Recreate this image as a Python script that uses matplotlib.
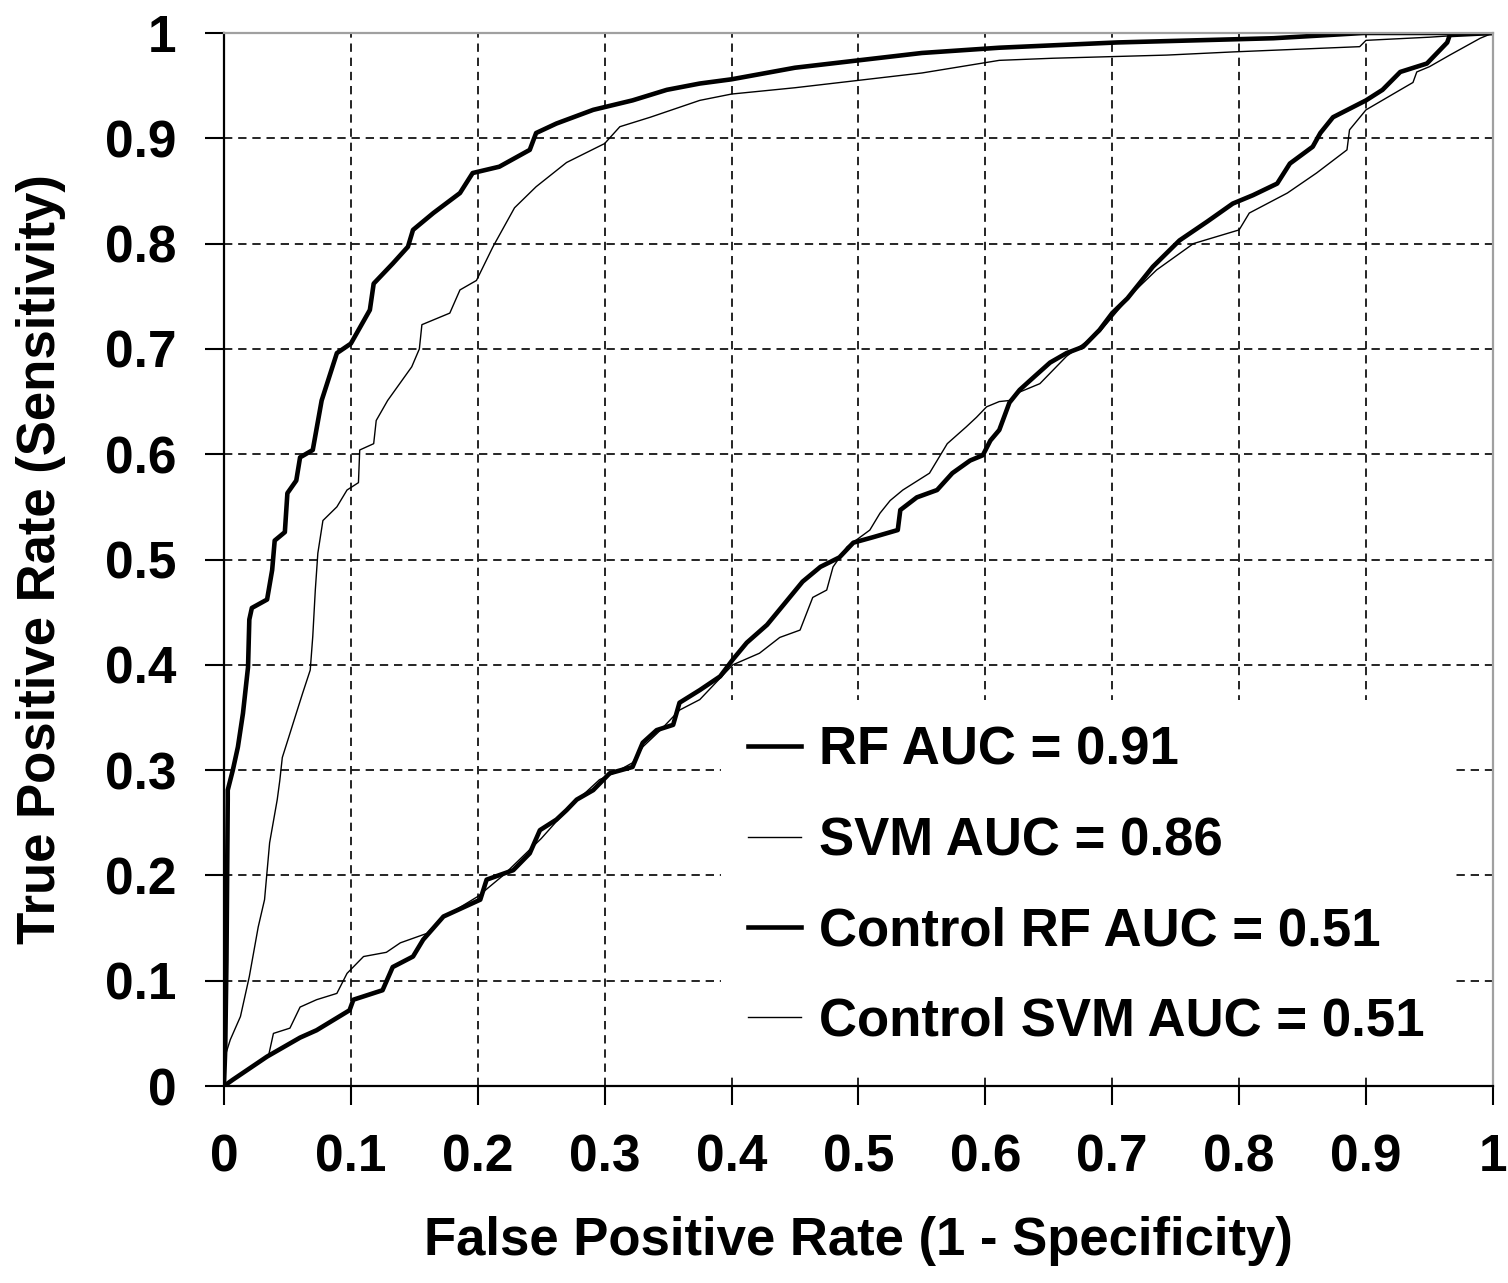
import matplotlib
matplotlib.use('Agg')
import matplotlib.pyplot as plt
import numpy as np

plt.rcParams['font.family'] = ['Liberation Sans', 'DejaVu Sans']
plt.rcParams['font.weight'] = 'bold'

# ROC curve points
rf_fpr = [0, 0.001, 0.002, 0.003, 0.003, 0.007, 0.011, 0.015, 0.019, 0.020, 0.022, 0.034, 0.038, 0.040,
          0.048, 0.050, 0.057, 0.060, 0.070, 0.077, 0.089, 0.10, 0.115, 0.118, 0.133, 0.145, 0.149, 0.165,
          0.186, 0.196, 0.217, 0.241, 0.246, 0.262, 0.291, 0.322, 0.349, 0.375, 0.40, 0.45, 0.50, 0.55,
          0.611, 0.704, 0.827, 0.898, 1.0]
rf_tpr = [0, 0.034, 0.12, 0.272, 0.281, 0.30, 0.322, 0.354, 0.398, 0.443, 0.454, 0.462, 0.49, 0.518,
          0.526, 0.563, 0.575, 0.597, 0.604, 0.651, 0.696, 0.705, 0.737, 0.762, 0.781, 0.797, 0.813, 0.829,
          0.848, 0.867, 0.873, 0.889, 0.905, 0.914, 0.927, 0.936, 0.946, 0.952, 0.956, 0.967, 0.974, 0.981,
          0.986, 0.991, 0.995, 1.0, 1.0]

svm_fpr = [0, 0, 0.005, 0.013, 0.020, 0.027, 0.032, 0.036, 0.042, 0.044, 0.046, 0.051, 0.057, 0.062,
           0.068, 0.070, 0.072, 0.074, 0.078, 0.089, 0.097, 0.106, 0.107, 0.118, 0.12, 0.129, 0.148, 0.154,
           0.156, 0.178, 0.186, 0.199, 0.212, 0.229, 0.246, 0.27, 0.30, 0.312, 0.336, 0.375, 0.40, 0.45,
           0.50, 0.55, 0.611, 0.653, 0.743, 0.795, 0.895, 0.90, 0.95, 1.0]
svm_tpr = [0, 0.025, 0.044, 0.066, 0.104, 0.151, 0.177, 0.231, 0.272, 0.290, 0.312, 0.331, 0.354, 0.373,
           0.395, 0.427, 0.471, 0.506, 0.537, 0.55, 0.566, 0.573, 0.604, 0.61, 0.632, 0.651, 0.683, 0.70,
           0.723, 0.734, 0.756, 0.765, 0.797, 0.834, 0.854, 0.877, 0.895, 0.911, 0.92, 0.936, 0.942, 0.948,
           0.955, 0.962, 0.974, 0.976, 0.979, 0.982, 0.987, 0.993, 0.996, 1.0]

ctrl_rf_fpr = [0, 0.007, 0.034, 0.06, 0.073, 0.099, 0.102, 0.125, 0.133, 0.149, 0.157, 0.173, 0.202, 0.207,
               0.228, 0.241, 0.249, 0.262, 0.270, 0.278, 0.291, 0.304, 0.322, 0.33, 0.341, 0.354, 0.359,
               0.375, 0.391, 0.401, 0.412, 0.428, 0.441, 0.456, 0.47, 0.485, 0.496, 0.511, 0.531, 0.533,
               0.546, 0.562, 0.574, 0.588, 0.598, 0.604, 0.611, 0.619, 0.627, 0.638, 0.651, 0.664, 0.677,
               0.69, 0.70, 0.712, 0.732, 0.753, 0.775, 0.795, 0.811, 0.83, 0.84, 0.858, 0.864, 0.874, 0.90,
               0.913, 0.927, 0.948, 0.964, 0.966, 1.0]
ctrl_rf_tpr = [0, 0.006, 0.028, 0.046, 0.053, 0.072, 0.082, 0.091, 0.113, 0.123, 0.139, 0.161, 0.177, 0.196,
               0.205, 0.221, 0.243, 0.253, 0.262, 0.272, 0.281, 0.297, 0.303, 0.326, 0.338, 0.343, 0.364,
               0.376, 0.389, 0.405, 0.421, 0.438, 0.457, 0.479, 0.493, 0.502, 0.516, 0.521, 0.528, 0.547,
               0.559, 0.566, 0.582, 0.594, 0.599, 0.613, 0.623, 0.649, 0.661, 0.673, 0.687, 0.696, 0.702,
               0.718, 0.734, 0.748, 0.778, 0.803, 0.821, 0.838, 0.846, 0.857, 0.876, 0.892, 0.905, 0.92, 0.936,
               0.946, 0.963, 0.971, 0.991, 0.998, 1.0]

ctrl_svm_fpr = [0, 0.035, 0.039, 0.052, 0.06, 0.073, 0.089, 0.097, 0.11, 0.128, 0.139, 0.16, 0.17, 0.2,
                0.22, 0.25, 0.27, 0.296, 0.307, 0.322, 0.33, 0.344, 0.359, 0.375, 0.401, 0.422, 0.438, 0.454,
                0.464, 0.475, 0.48, 0.491, 0.509, 0.517, 0.525, 0.535, 0.556, 0.570, 0.585, 0.593, 0.601,
                0.611, 0.619, 0.627, 0.643, 0.664, 0.69, 0.716, 0.735, 0.764, 0.80, 0.808, 0.838, 0.861,
                0.885, 0.887, 0.90, 0.927, 0.937, 0.94, 0.95, 0.966, 0.99, 1.0]
ctrl_svm_tpr = [0, 0.028, 0.05, 0.055, 0.075, 0.082, 0.088, 0.107, 0.123, 0.127, 0.136, 0.145, 0.158, 0.18,
                0.2, 0.235, 0.262, 0.291, 0.297, 0.307, 0.322, 0.338, 0.357, 0.367, 0.40, 0.411, 0.426, 0.433,
                0.464, 0.471, 0.493, 0.512, 0.528, 0.544, 0.556, 0.566, 0.582, 0.61, 0.626, 0.635, 0.645,
                0.65, 0.651, 0.659, 0.667, 0.693, 0.716, 0.753, 0.775, 0.80, 0.813, 0.829, 0.848, 0.867,
                0.889, 0.908, 0.927, 0.946, 0.953, 0.963, 0.968, 0.979, 0.995, 1.0]

labels = ['RF AUC = 0.91', 'SVM AUC = 0.86', 'Control RF AUC = 0.51', 'Control SVM AUC = 0.51']
ticks = np.arange(0, 1.01, 0.1)
tick_labels = ['0', '0.1', '0.2', '0.3', '0.4', '0.5', '0.6', '0.7', '0.8', '0.9', '1']

fig = plt.figure(figsize=(15.08, 12.83), dpi=100)
ax = fig.add_axes([0.1485, 0.1535, 0.8415, 0.8208])

ax.plot(rf_fpr, rf_tpr, color='black', lw=3.3, label=labels[0])
ax.plot(svm_fpr, svm_tpr, color='black', lw=1.0, label=labels[1])
ax.plot(ctrl_rf_fpr, ctrl_rf_tpr, color='black', lw=3.3, label=labels[2])
ax.plot(ctrl_svm_fpr, ctrl_svm_tpr, color='black', lw=1.0, label=labels[3])

ax.set_xlim(0, 1)
ax.set_ylim(0, 1)
ax.set_xticks(ticks)
ax.set_xticklabels(tick_labels)
ax.set_yticks(ticks)
ax.set_yticklabels(tick_labels)
ax.grid(True, color='black', linestyle=(0, (5, 3.5)), linewidth=1.2)
ax.set_axisbelow(True)
ax.tick_params(direction='out', length=14, width=1.5, pad=20, labelsize=37)

for s in ['left', 'bottom']:
    ax.spines[s].set_color('black')
    ax.spines[s].set_linewidth(1.6)
for s in ['top', 'right']:
    ax.spines[s].set_color('#a0a0a0')
    ax.spines[s].set_linewidth(1.6)

ax.set_xlabel('False Positive Rate (1 - Specificity)', fontsize=38, fontweight='bold', labelpad=24)
ax.set_ylabel('True Positive Rate (Sensitivity)', fontsize=38, fontweight='bold', labelpad=28)

leg = ax.legend(loc='upper left', bbox_to_anchor=(0.392, 0.367), borderaxespad=0,
                fontsize=38, frameon=True, fancybox=False, framealpha=1,
                facecolor='white', edgecolor='none', handlelength=1.0,
                handletextpad=0.35, labelspacing=0.76, borderpad=0.5)

plt.savefig('out.png', dpi=100)
